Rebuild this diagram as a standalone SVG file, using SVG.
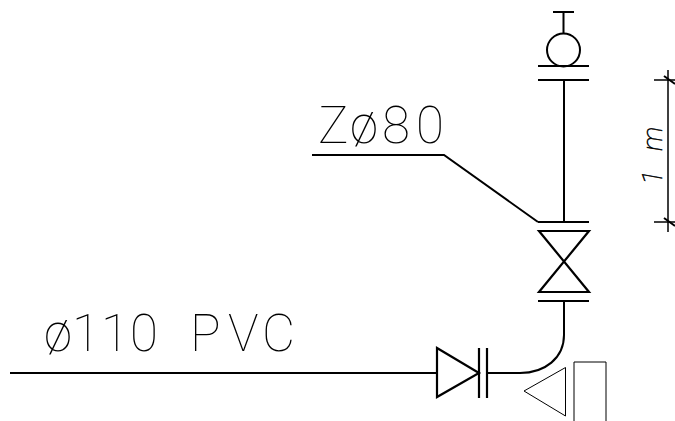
<svg xmlns="http://www.w3.org/2000/svg" width="675" height="421" viewBox="0 0 675 421">
<style>
.p{fill:none;stroke:#000;stroke-width:2}
.h{fill:none;stroke:#000;stroke-width:2.200}
.t{fill:none;stroke:#000;stroke-width:1}
.d{fill:none;stroke:#000;stroke-width:1.500}
text{font-family:"Roboto","Liberation Sans",sans-serif;font-weight:100;fill:#000}
</style>
<rect width="675" height="421" fill="#fff"/>
<g id="connectors">
<path class="p" d="M10 373H437"/>
<path class="p" d="M564 301V335C564 358 545 373 520 373H488"/>
<path class="p" d="M564 80V222"/>
<path class="p" d="M312 155H444L538 222"/>
</g>
<g id="handwheel-valve">
<path class="p" d="M553 12H574M563.500 12V33"/>
<circle class="p" cx="563.500" cy="50" r="16.500"/>
<path class="h" d="M538 66H589M538 80H589"/>
</g>
<g id="gate-valve">
<path class="h" d="M538 222H589M538 301H589"/>
<path class="h" d="M539 231H589L539 292H589Z"/>
</g>
<g id="check-valve">
<path class="h" d="M437 348V397L479 373Z"/>
<path class="h" d="M479 348V398M487 348V398"/>
</g>
<g id="flow-symbol">
<path class="t" d="M565.500 367.500V416L524 391Z"/>
<path class="t" d="M574 421V362H606V421" stroke="#444"/>
</g>
<g id="dimension">
<path class="d" d="M668 70V232M654 80H675M654 222H675"/>
<path class="p" d="M664 76L675 84M664 218L675 226"/>
<text transform="translate(662 185) rotate(-90)" font-size="28" font-style="italic" stroke="#000" stroke-width="0.500" x="0 14 34">1 m</text>
</g>
<g id="label-z80"><text y="143" font-size="51" x="318 350 382 416">Zø80</text></g>
<g id="label-pvc"><text y="351" font-size="51" x="44 72 101 130 190 228 262" xml:space="preserve">ø110PVC</text></g>
</svg>
